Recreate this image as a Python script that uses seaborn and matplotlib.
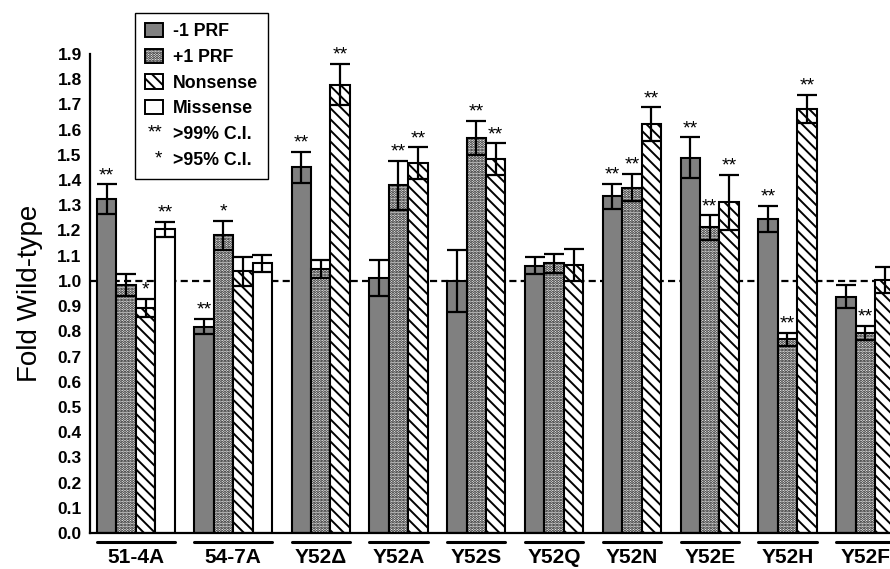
import numpy as np
import pandas as pd
import matplotlib
matplotlib.use("Agg")
import matplotlib.pyplot as plt
import matplotlib.text as mtext
from matplotlib.patches import Patch
from matplotlib.legend_handler import HandlerBase
import seaborn as sns

# --- DATA ---
groups = ['51-4A', '54-7A', 'Y52\u0394', 'Y52A', 'Y52S', 'Y52Q', 'Y52N', 'Y52E', 'Y52H', 'Y52F']
series = ['-1 PRF', '+1 PRF', 'Nonsense', 'Missense']

minus1 = [1.324, 0.819, 1.450, 1.011, 1.000, 1.061, 1.335, 1.488, 1.245, 0.937]
minus1_err = [0.060, 0.030, 0.062, 0.070, 0.122, 0.034, 0.050, 0.081, 0.053, 0.046]
plus1 = [0.984, 1.181, 1.046, 1.380, 1.567, 1.070, 1.370, 1.212, 0.769, 0.795]
plus1_err = [0.045, 0.057, 0.035, 0.097, 0.069, 0.038, 0.055, 0.049, 0.026, 0.028]
nonsense = [0.892, 1.038, 1.779, 1.467, 1.483, 1.063, 1.622, 1.311, 1.683, 1.003]
nonsense_err = [0.037, 0.058, 0.082, 0.064, 0.062, 0.064, 0.067, 0.111, 0.056, 0.051]
missense = [1.204, 1.069, None, None, None, None, None, None, None, None]
missense_err = [0.030, 0.035, None, None, None, None, None, None, None, None]

minus1_sig = ['**', '**', '**', '', '', '', '**', '**', '**', '']
plus1_sig = ['', '*', '', '**', '**', '', '**', '**', '**', '**']
nonsense_sig = ['*', '', '**', '**', '**', '', '**', '**', '**', '']
missense_sig = ['**', '', '', '', '', '', '', '', '', '']

yticks = [round(0.1 * i, 1) for i in range(20)]

# --- build long table, one bar slot per bar, one empty slot between groups ---
values = [minus1, plus1, nonsense, missense]
errors = [minus1_err, plus1_err, nonsense_err, missense_err]
sigs = [minus1_sig, plus1_sig, nonsense_sig, missense_sig]

rows = []
centers = []
spans = []
slot = 0
for g, name in enumerate(groups):
    first = slot
    for s, lab in enumerate(series):
        if values[s][g] is None:
            continue
        rows.append(dict(pos=slot, group=name, series=lab, value=values[s][g],
                         err=errors[s][g], sig=sigs[s][g]))
        slot += 1
    last = slot - 1
    centers.append((first + last) / 2)
    spans.append((first - 0.5, last + 0.5))
    slot += 1
df = pd.DataFrame(rows)

sns.set_theme(style="white")
plt.rcParams['font.family'] = ['Liberation Sans', 'DejaVu Sans']
plt.rcParams['hatch.linewidth'] = 1.4
for key in ['text.color', 'axes.labelcolor', 'xtick.color', 'ytick.color']:
    plt.rcParams[key] = 'black'

fig = plt.figure(figsize=(8.9, 5.69), dpi=100)
ax = fig.add_axes([90 / 890, 36 / 569, 1 - 90 / 890, 479 / 569])

palette = {'-1 PRF': '#808080', '+1 PRF': 'white', 'Nonsense': 'white', 'Missense': 'white'}
hatches = {'-1 PRF': '', '+1 PRF': '......', 'Nonsense': '\\\\\\', 'Missense': ''}

ax.axhline(1.0, color='black', lw=1.6, ls=(0, (3.2, 1.9)), zorder=0.5)

sns.barplot(data=df, x='pos', y='value', hue='series', hue_order=series,
            palette=palette, native_scale=True, dodge=False, width=1,
            saturation=1, edgecolor='black', linewidth=1.5, legend=False,
            errorbar=None, ax=ax)

for cont, lab in zip(ax.containers, series):
    for bar in cont:
        bar.set_hatch(hatches[lab])

ax.errorbar(df['pos'], df['value'], yerr=df['err'], fmt='none', ecolor='black',
            elinewidth=1.6, capsize=7, capthick=1.6, zorder=3)

for _, r in df.iterrows():
    if r['sig']:
        ax.annotate(r['sig'], (r['pos'], r['value'] + r['err']), xytext=(0, 0),
                    textcoords='offset points', ha='center', va='bottom',
                    fontsize=14)

# axes styling
ax.set_ylim(0, 1.9)
ax.set_xlim(-0.86, 40.27)
ax.set_yticks(yticks)
ax.set_yticklabels([f"{t:.1f}" for t in yticks], fontweight='bold', fontsize=12.5)
ax.set_xticks(centers)
ax.set_xticklabels(groups, fontweight='bold', fontsize=15)
ax.tick_params(axis='x', length=0, pad=11)
ax.tick_params(axis='y', length=4, width=1.5, direction='out', pad=2)
ax.set_xlabel('')
ax.set_ylabel('Fold Wild-type', fontsize=20, labelpad=10)
for side in ['top', 'right']:
    ax.spines[side].set_visible(False)
for side in ['left', 'bottom']:
    ax.spines[side].set_color('black')
    ax.spines[side].set_linewidth(1.6)

# group underlines
for a, b in spans:
    ax.plot([a, b], [-0.019, -0.019], color='black', lw=2.2,
            transform=ax.get_xaxis_transform(), clip_on=False)


# legend with text-only star entries
class StarHandle:
    def __init__(self, s):
        self.s = s


class StarHandler(HandlerBase):
    def create_artists(self, legend, orig_handle, xdescent, ydescent, width,
                       height, fontsize, trans):
        t = mtext.Text(width - xdescent, height / 2 - ydescent, orig_handle.s,
                       ha='right', va='center', fontsize=fontsize + 1,
                       transform=trans)
        return [t]


handles = [Patch(facecolor=palette[s], edgecolor='black', hatch=hatches[s], lw=1.4)
           for s in series]
handles += [StarHandle('**'), StarHandle('*')]
labels = series + ['>99% C.I.', '>95% C.I.']
leg = fig.legend(handles, labels, handler_map={StarHandle: StarHandler()},
                 loc='upper left', bbox_to_anchor=(135 / 890, 1 - 13 / 569),
                 frameon=True, fancybox=False, edgecolor='black', framealpha=1,
                 prop={'weight': 'bold', 'size': 12.8}, handlelength=1.0,
                 handleheight=0.85, handletextpad=0.6, labelspacing=0.48,
                 borderpad=0.55, borderaxespad=0)
leg.get_frame().set_linewidth(1.0)

fig.savefig('out.png', dpi=100)
